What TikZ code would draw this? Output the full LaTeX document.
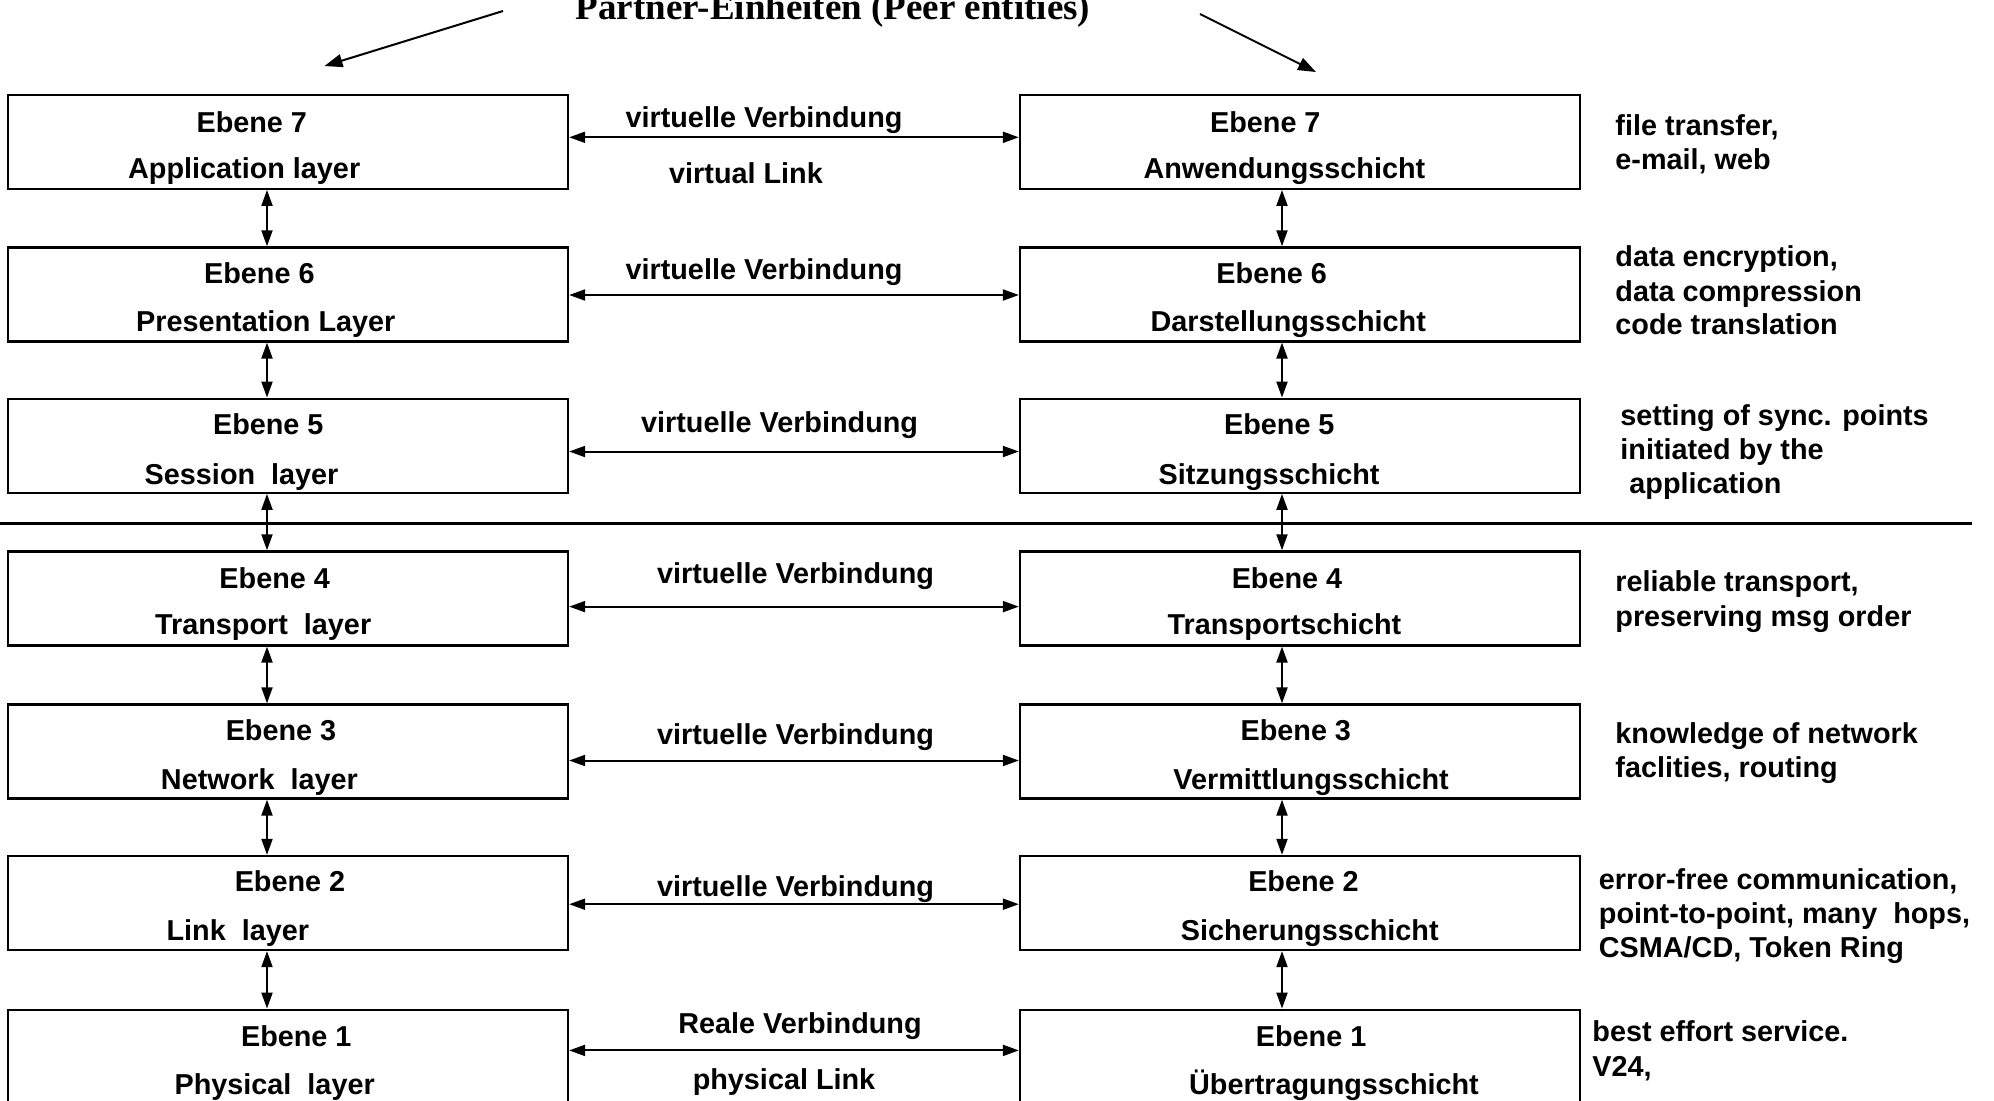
\documentclass[tikz,border=0pt]{standalone}
\usepackage{fontspec}
\setmainfont{Liberation Sans}
\newfontfamily\titlefont{Liberation Serif}
\usetikzlibrary{arrows.meta}

\begin{document}
\begin{tikzpicture}[x=0.5pt,y=-0.5pt,
  layerbox/.style={draw, line width=1.15pt, minimum width=280pt, minimum height=47pt, inner sep=0pt},
  lbl/.style={font=\bfseries\fontsize{14.4}{17}\selectfont, inner sep=0pt, anchor=base},
  note/.style={lbl, anchor=base west},
  link/.style={line width=1pt, {Triangle[length=8pt,width=5.5pt]}-{Triangle[length=8pt,width=5.5pt]}},
  peer/.style={line width=1pt, -{Triangle[length=9pt,width=6.5pt]}},
  sepline/.style={line width=1.5pt}
]
\useasboundingbox (0,0) rectangle (1994,1100);

% title and the two peer arrows
\node[font=\titlefont\bfseries\fontsize{18.5}{22}\selectfont, inner sep=0pt, anchor=base] (title) at (833,19) {Partner-Einheiten (Peer entities)};
\coordinate (pl0) at (503,11);
\coordinate (pl1) at (324.5,66);
\coordinate (pr0) at (1200,14);
\coordinate (pr1) at (1316,72);
\draw[peer] (pl0) -- (pl1);
\draw[peer] (pr0) -- (pr1);

% layer boxes, left and right stacks
\node[layerbox] (L7) at (288,141.8) {};
\node[layerbox] (L6) at (288,294.4) {};
\node[layerbox] (L5) at (288,445.7) {};
\node[layerbox] (L4) at (288,598.4) {};
\node[layerbox] (L3) at (288,751.5) {};
\node[layerbox] (L2) at (288,903) {};
\node[layerbox] (L1) at (288,1056.7) {};
\node[layerbox] (R7) at (1300,141.8) {};
\node[layerbox] (R6) at (1300,294.4) {};
\node[layerbox] (R5) at (1300,445.7) {};
\node[layerbox] (R4) at (1300,598.4) {};
\node[layerbox] (R3) at (1300,751.5) {};
\node[layerbox] (R2) at (1300,903) {};
\node[layerbox] (R1) at (1300,1056.7) {};

% box captions
\node[lbl] (L7a) at (251.8,132) {Ebene 7};
\node[lbl] (L7b) at (244.2,178) {Application layer};
\node[lbl] (L6a) at (259.4,283.4) {Ebene 6};
\node[lbl] (L6b) at (265.8,331.7) {Presentation Layer};
\node[lbl] (L5a) at (268.3,434.7) {Ebene 5};
\node[lbl] (L5b) at (241.6,484.3) {Session~ layer};
\node[lbl] (L4a) at (274.7,588.6) {Ebene 4};
\node[lbl] (L4b) at (263.2,634.4) {Transport~ layer};
\node[lbl] (L3a) at (281,740) {Ebene 3};
\node[lbl] (L3b) at (259.4,789.6) {Network~ layer};
\node[lbl] (L2a) at (290,891.3) {Ebene 2};
\node[lbl] (L2b) at (237.8,940.9) {Link~ layer};
\node[lbl] (L1a) at (296.3,1046.4) {Ebene 1};
\node[lbl] (L1b) at (274.7,1094.8) {Physical~ layer};

\node[lbl] (R7a) at (1265.3,132) {Ebene 7};
\node[lbl] (R7b) at (1284.4,178) {Anwendungsschicht};
\node[lbl] (R6a) at (1271.7,283.4) {Ebene 6};
\node[lbl] (R6b) at (1288.2,331.7) {Darstellungsschicht};
\node[lbl] (R5a) at (1279.3,434.7) {Ebene 5};
\node[lbl] (R5b) at (1269.1,484.3) {Sitzungsschicht};
\node[lbl] (R4a) at (1287,588.6) {Ebene 4};
\node[lbl] (R4b) at (1284.4,634.4) {Transportschicht};
\node[lbl] (R3a) at (1295.8,740) {Ebene 3};
\node[lbl] (R3b) at (1311.1,789.6) {Vermittlungsschicht};
\node[lbl] (R2a) at (1303.5,891.3) {Ebene 2};
\node[lbl] (R2b) at (1309.8,940.9) {Sicherungsschicht};
\node[lbl] (R1a) at (1311.1,1046.4) {Ebene 1};
\node[lbl] (R1b) at (1334,1094.8) {Übertragungsschicht};

% peer-to-peer links
\draw[link] (L7.east |- 0,137.3) -- (R7.west |- 0,137.3);
\draw[link] (L6.east |- 0,295) -- (R6.west |- 0,295);
\draw[link] (L5.east |- 0,451.5) -- (R5.west |- 0,451.5);
\draw[link] (L4.east |- 0,606.6) -- (R4.west |- 0,606.6);
\draw[link] (L3.east |- 0,760.5) -- (R3.west |- 0,760.5);
\draw[link] (L2.east |- 0,904.2) -- (R2.west |- 0,904.2);
\draw[link] (L1.east |- 0,1050.4) -- (R1.west |- 0,1050.4);

\node[lbl] (v7) at (764,127) {virtuelle Verbindung};
\node[lbl] (v7b) at (746,183) {virtual Link};
\node[lbl] (v6) at (764,279.6) {virtuelle Verbindung};
\node[lbl] (v5) at (779.6,432) {virtuelle Verbindung};
\node[lbl] (v4) at (795.5,583.5) {virtuelle Verbindung};
\node[lbl] (v3) at (795.5,744) {virtuelle Verbindung};
\node[lbl] (v2) at (795.5,896) {virtuelle Verbindung};
\node[lbl] (v1) at (800,1033.7) {Reale Verbindung};
\node[lbl] (v1b) at (784,1089.7) {physical Link};

% vertical service links inside each stack
\foreach \u/\l in {7/6,6/5,5/4,4/3,3/2,2/1}{
  \draw[link] (L\u.south -| 267,0) -- (L\l.north -| 267,0);
  \draw[link] (R\u.south -| 1282,0) -- (R\l.north -| 1282,0);
}

% boundary between application-oriented and transport-oriented layers
\draw[sepline] (0,523) -- (1972,523);

% layer functions
\node[note] (n7a) at (1615,135) {file transfer,};
\node[note] (n7b) at (1615,169) {e-mail, web};
\node[note] (n6a) at (1615,266) {data encryption,};
\node[note] (n6b) at (1615,301) {data compression};
\node[note] (n6c) at (1615,334) {code translation};
\node[note] (n5a) at (1620,425) {setting of sync. points};
\node[note] (n5b) at (1620,459) {initiated by the};
\node[note] (n5c) at (1629,493) {application};
\node[note] (n4a) at (1615,591) {reliable transport,};
\node[note] (n4b) at (1615,626) {preserving msg order};
\node[note] (n3a) at (1615,743) {knowledge of network};
\node[note] (n3b) at (1615,777) {faclities, routing};
\node[note] (n2a) at (1598.5,889) {error-free communication,};
\node[note] (n2b) at (1598.5,923) {point-to-point, many~ hops,};
\node[note] (n2c) at (1598.5,957) {CSMA/CD, Token Ring};
\node[note] (n1a) at (1592,1041) {best effort service.};
\node[note] (n1b) at (1592,1076) {V24,};
\end{tikzpicture}
\end{document}
